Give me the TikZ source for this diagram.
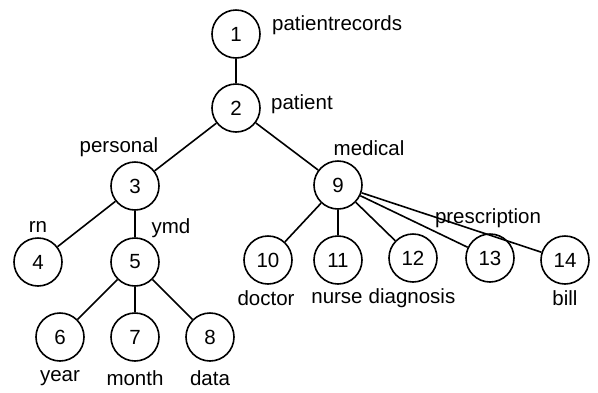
\documentclass[tikz,border=0pt]{standalone}
\usepackage{fontspec}
\setmainfont{Liberation Sans}
\begin{document}
\begin{tikzpicture}[x=1pt,y=-1pt,
  every node/.style={font=\fontsize{20.5}{24}\selectfont},
  tnode/.style={circle,draw,line width=1.6pt,minimum size=48pt,inner sep=0pt},
  lbl/.style={inner sep=0pt},
  edge/.style={line width=1.6pt}]
\useasboundingbox (0,0) rectangle (598,392);
\node[tnode] (n1) at (236,34) {1};
\node[tnode] (n2) at (236,108) {2};
\node[tnode] (n3) at (135,186) {3};
\node[tnode] (n4) at (38,262) {4};
\node[tnode] (n5) at (135,262) {5};
\node[tnode] (n6) at (60,337) {6};
\node[tnode] (n7) at (135,337) {7};
\node[tnode] (n8) at (210,337) {8};
\node[tnode] (n9) at (338,185) {9};
\node[tnode] (n10) at (268,260) {10};
\node[tnode] (n11) at (338,260) {11};
\node[tnode] (n12) at (413,258) {12};
\node[tnode] (n13) at (490,258) {13};
\node[tnode] (n14) at (565,260) {14};
\draw[edge] (n1) -- (n2);
\draw[edge] (n2) -- (n3);
\draw[edge] (n2) -- (n9);
\draw[edge] (n3) -- (n4);
\draw[edge] (n3) -- (n5);
\draw[edge] (n5) -- (n6);
\draw[edge] (n5) -- (n7);
\draw[edge] (n5) -- (n8);
\draw[edge] (n9) -- (n10);
\draw[edge] (n9) -- (n11);
\draw[edge] (n9) -- (n12);
\draw[edge] (n9) -- (n13);
\draw[edge] (n9) -- (n14);
\node[lbl,anchor=west] (l1) at (272,25) {patientrecords};
\node[lbl,anchor=west] (l2) at (271,104) {patient};
\node[lbl] (l3) at (119,147) {personal};
\node[lbl] (l9) at (369,148) {medical};
\node[lbl] (l4) at (38,227) {rn};
\node[lbl] (l5) at (171,228) {ymd};
\node[lbl] (l6) at (60,378) {year};
\node[lbl] (l7) at (135,378) {month};
\node[lbl] (l8) at (210,378) {data};
\node[lbl] (l10) at (266,298) {doctor};
\node[lbl] (l11) at (337,298) {nurse};
\node[lbl] (l12) at (412,298) {diagnosis};
\node[lbl] (l13) at (488,218) {prescription};
\node[lbl] (l14) at (565,298) {bill};
\end{tikzpicture}
\end{document}
